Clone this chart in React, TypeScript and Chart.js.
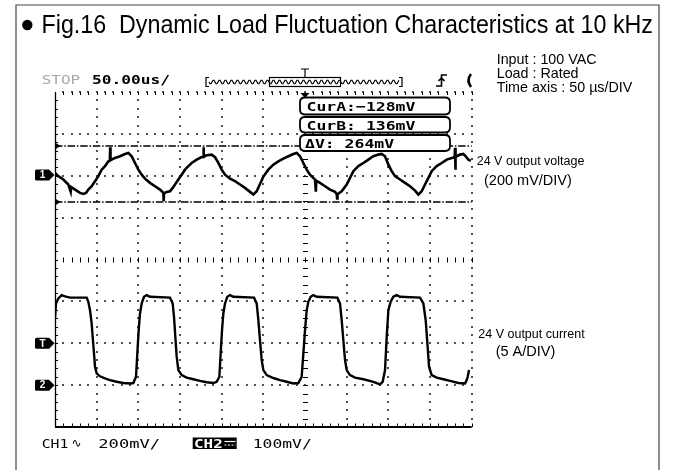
import React, { useEffect, useRef } from "react";
import { Chart, registerables } from "chart.js";

Chart.register(...registerables);

// ---------------- data ----------------
const titleText = "Fig.16  Dynamic Load Fluctuation Characteristics at 10 kHz";
const conditionLines = ["Input : 100 VAC", "Load : Rated", "Time axis : 50 µs/DIV"];
const ch1Notes = ["24 V output voltage", "(200 mV/DIV)"];
const ch2Notes = ["24 V output current", "(5 A/DIV)"];

const timeAxisUs = [0, 500];
const timeDivisionsUs = [0, 50, 100, 150, 200, 250, 300, 350, 400, 450, 500];
const ch1AxisMv = [-1204, 396];
const ch2AxisA = [-5, 35];
const ch2DivisionsA = [-5, 0, 5, 10, 15, 20, 25, 30, 35];

// CH1: 24 V output voltage ripple (mV, AC coupled)
const ch1TimeUs = [
  0, 4, 10, 16, 18.8, 19.3, 26, 30, 34, 37.2,
  40, 44, 48, 52, 56, 60, 64, 65.8, 66.2, 66.6,
  68, 72, 78, 84, 88, 92, 96, 100, 104, 108,
  114, 120, 126, 130, 130.4, 130.8, 134, 138, 141.2, 144,
  148, 152, 156, 160, 164, 170, 176, 177.8, 178.2, 178.6,
  182, 188, 192, 196, 200, 204, 210, 216, 222, 228,
  234, 238, 242, 246, 250, 256, 262, 268, 274, 280,
  286, 290, 294, 298, 302, 306, 312, 313, 313.4, 318,
  324, 330, 336, 338, 338.5, 339, 344, 350, 354, 358,
  364, 370, 376, 382, 388, 392, 396, 400, 404, 408,
  414, 420, 426, 432, 436, 440, 444, 448, 452, 458,
  464, 470, 476, 479.6, 480, 480.4, 480.8, 482, 486, 490,
  492.8, 496, 499,
];
const ch1Mv = [
  10, -6, -22, -46, -80, -58, -75, -86, -91, -86,
  -70, -54, -30, -6, 25, 42, 65, 68, 132, 70,
  73, 81, 89, 100, 105, 89, 57, 25, 1, -18,
  -38, -54, -70, -86, -126, -88, -81, -78, -62, -46,
  -22, 1, 25, 42, 57, 73, 85, 86, 132, 88,
  94, 97, 85, 57, 25, 1, -18, -30, -46, -62,
  -81, -94, -78, -43, -8, 25, 49, 65, 78, 89,
  100, 105, 89, 57, 25, 1, -22, -80, -28, -38,
  -54, -70, -81, -91, -112, -92, -78, -46, -14, 18,
  42, 57, 73, 89, 97, 100, 89, 49, 18, -6,
  -22, -38, -54, -75, -94, -78, -46, -14, 18, 42,
  57, 73, 81, 84, 129, 25, 86, 89, 97, 100,
  89, 73, 67,
];

// CH2: 24 V output current (A)
const ch2TimeUs = [
  0, 1.2, 4, 8, 12, 18, 38, 40, 42, 44,
  45.2, 46.8, 48, 50, 54, 60, 66, 74, 82, 90,
  94, 97.2, 98.8, 100.4, 102, 104, 106.8, 110, 114, 138,
  141.2, 142.8, 144.4, 146, 148, 152, 158, 166, 174, 182,
  190, 194, 197.2, 198.8, 200.4, 202, 204, 206.8, 210, 214,
  238.8, 242, 244, 246, 248, 250, 254, 262, 270, 278,
  286, 292, 296, 298, 300, 302, 304, 306.8, 310, 314,
  338.8, 342, 344, 346, 348, 350, 354, 360, 370, 382,
  390, 393.2, 396, 398, 400, 402.8, 406, 410, 414, 438,
  442, 444.8, 446.8, 448.8, 452, 458, 466, 474, 484, 492,
  494, 495.2, 496.8,
];
const ch2A = [
  8.0, 9.75, 10.35, 10.75, 10.6, 10.45, 10.45, 9.95, 8.95, 7.35,
  5.75, 3.8, 2.2, 1.4, 1.05, 0.8, 0.6, 0.4, 0.25, 0.2,
  0.25, 1.0, 3.8, 6.55, 8.55, 9.75, 10.55, 10.75, 10.55, 10.45,
  9.75, 8.15, 5.75, 3.4, 1.8, 1.2, 0.9, 0.7, 0.5, 0.35,
  0.25, 0.4, 1.0, 3.8, 6.55, 8.55, 9.75, 10.55, 10.75, 10.55,
  10.45, 9.75, 7.75, 5.35, 3.0, 1.8, 1.2, 0.85, 0.6, 0.4,
  0.2, 0.25, 1.0, 3.8, 6.55, 8.95, 9.95, 10.55, 10.75, 10.55,
  10.45, 9.75, 7.75, 5.35, 3.0, 1.8, 1.2, 0.9, 0.7, 0.4,
  0.1, 0.4, 1.8, 5.75, 8.95, 9.95, 10.55, 10.75, 10.55, 10.45,
  9.75, 7.75, 5.0, 2.2, 1.2, 0.9, 0.7, 0.5, 0.25, 0.2,
  0.6, 1.0, 1.8,
];

const cursorNames = ["CurA", "CurB"];
const cursorMv = [-128, 136];
const deltaMv = 264;
const triggerTimeUs = 300;
const triggerLevelA = 5;
const runState = "STOP";
const timebaseLabel = "50.00us/";
const ch1ScaleLabel = "200mV/";
const ch2ScaleLabel = "100mV/";

// ---------------- drawing helpers ----------------
const MONO = '"DejaVu Sans Mono", monospace';
const SANS = '"Liberation Sans", Arial, sans-serif';

function monoText(ctx: any, text: string, x: number, yMid: number, charW: number, color: string, size = 13, weight = "bold") {
  ctx.save();
  ctx.font = `${weight} ${size}px ${MONO}`;
  const adv = ctx.measureText("0").width;
  ctx.translate(x, yMid + (size * 0.729) / 2);
  ctx.scale(charW / adv, 1);
  ctx.fillStyle = color;
  ctx.textAlign = "left";
  ctx.textBaseline = "alphabetic";
  ctx.fillText(text, 0, 0);
  ctx.restore();
}

function sansText(ctx: any, text: string, x: number, baseline: number, size: number, width?: number) {
  ctx.save();
  ctx.font = `${size}px ${SANS}`;
  ctx.translate(x, baseline);
  if (width) {
    const w = ctx.measureText(text).width;
    ctx.scale(width / w, 1);
  }
  ctx.fillStyle = "#000";
  ctx.textAlign = "left";
  ctx.textBaseline = "alphabetic";
  ctx.fillText(text, 0, 0);
  ctx.restore();
}

function pill(ctx: any, x1: number, y1: number, x2: number, y2: number, r: number) {
  ctx.beginPath();
  ctx.moveTo(x1 + r, y1);
  ctx.lineTo(x2 - r, y1);
  ctx.quadraticCurveTo(x2, y1, x2, y1 + r);
  ctx.lineTo(x2, y2 - r);
  ctx.quadraticCurveTo(x2, y2, x2 - r, y2);
  ctx.lineTo(x1 + r, y2);
  ctx.quadraticCurveTo(x1, y2, x1, y2 - r);
  ctx.lineTo(x1, y1 + r);
  ctx.quadraticCurveTo(x1, y1, x1 + r, y1);
  ctx.closePath();
}

function channelMarker(ctx: any, label: string, y: number) {
  ctx.save();
  ctx.fillStyle = "#000";
  pill(ctx, 35, y - 5.5, 50, y + 5.5, 1.5);
  ctx.fill();
  ctx.beginPath();
  ctx.moveTo(49.5, y - 5);
  ctx.lineTo(54.5, y);
  ctx.lineTo(49.5, y + 5);
  ctx.closePath();
  ctx.fill();
  ctx.font = `bold 10px ${SANS}`;
  ctx.fillStyle = "#fff";
  ctx.textAlign = "center";
  ctx.textBaseline = "middle";
  ctx.fillText(label, 42.5, y + 0.5);
  ctx.restore();
}

const scopePlugin = {
  id: "scope",
  beforeDatasetsDraw(chart: any) {
    const { ctx, chartArea: a, scales } = chart;
    const xs = scales.x;
    const y1 = scales.y1;
    const y2 = scales.y2;
    const minorT = (timeDivisionsUs[1] - timeDivisionsUs[0]) / 5;
    const minorA = (ch2DivisionsA[1] - ch2DivisionsA[0]) / 5;
    const tStart = timeAxisUs[0];
    const tEnd = timeAxisUs[1];
    const aStart = ch2AxisA[0];
    const aEnd = ch2AxisA[1];
    const centerA = (aStart + aEnd) / 2;
    ctx.save();

    // dotted graticule
    ctx.fillStyle = "#505050";
    const dot = (x: number, y: number) => ctx.fillRect(Math.round(x) - 1, Math.round(y) - 1, 2, 2);
    for (const t of timeDivisionsUs) {
      if (t === tStart || t === triggerTimeUs) continue;
      const x = xs.getPixelForValue(t);
      for (let v = aStart + minorA; v <= aEnd + 1e-9; v += minorA) dot(x, y2.getPixelForValue(v));
    }
    for (const v of ch2DivisionsA) {
      if (v === aStart || v === centerA) continue;
      const y = y2.getPixelForValue(v);
      for (let t = tStart + minorT; t <= tEnd + 1e-9; t += minorT) dot(xs.getPixelForValue(t), y);
    }

    ctx.strokeStyle = "#000";
    ctx.lineWidth = 1;
    // centre vertical axis (trigger position) with short ticks
    const cx = Math.round(xs.getPixelForValue(triggerTimeUs)) + 0.5;
    ctx.beginPath();
    for (let v = aStart + minorA; v < aEnd; v += minorA) {
      const y = Math.round(y2.getPixelForValue(v)) + 0.5;
      ctx.moveTo(cx - 2.5, y);
      ctx.lineTo(cx + 2.5, y);
    }
    // centre horizontal axis with short ticks
    const cy = Math.round(y2.getPixelForValue(centerA));
    for (let t = tStart + minorT; t <= tEnd + 1e-9; t += minorT) {
      const x = Math.round(xs.getPixelForValue(t)) + 0.5;
      ctx.moveTo(x, cy - 2.5);
      ctx.lineTo(x, cy + 2.5);
    }
    // left edge ticks
    for (let v = aStart + minorA; v < aEnd; v += minorA) {
      const y = Math.round(y2.getPixelForValue(v)) + 0.5;
      ctx.moveTo(a.left, y);
      ctx.lineTo(a.left + 3, y);
    }
    // top & bottom edge ticks
    for (let t = tStart + minorT; t <= tEnd + 1e-9; t += minorT) {
      const x = Math.round(xs.getPixelForValue(t)) + 0.5;
      ctx.moveTo(x, a.top);
      ctx.lineTo(x, a.top + 3);
      ctx.moveTo(x, a.bottom);
      ctx.lineTo(x, a.bottom - 3.5);
    }
    ctx.stroke();

    // left and bottom border
    ctx.lineWidth = 1.3;
    ctx.beginPath();
    ctx.moveTo(a.left + 0.5, a.top);
    ctx.lineTo(a.left + 0.5, a.bottom);
    ctx.stroke();
    ctx.lineWidth = 2;
    ctx.beginPath();
    ctx.moveTo(a.left, a.bottom);
    ctx.lineTo(a.right, a.bottom);
    ctx.stroke();

    // cursor lines (dash-dot) with left triangles
    for (const v of cursorMv) {
      const y = Math.round(y1.getPixelForValue(v));
      ctx.save();
      ctx.lineWidth = 1.7;
      ctx.setLineDash([7.5, 1.8, 1.5, 1.8]);
      ctx.beginPath();
      ctx.moveTo(a.left, y);
      ctx.lineTo(a.right, y);
      ctx.stroke();
      ctx.restore();
      ctx.beginPath();
      ctx.moveTo(a.left, y - 3.5);
      ctx.lineTo(a.left + 5.5, y);
      ctx.lineTo(a.left, y + 3.5);
      ctx.closePath();
      ctx.fillStyle = "#000";
      ctx.fill();
    }

    // trigger position marker
    const tx = xs.getPixelForValue(triggerTimeUs);
    ctx.beginPath();
    ctx.moveTo(tx - 4.5, a.top + 1);
    ctx.lineTo(tx + 4.5, a.top + 1);
    ctx.lineTo(tx, a.top + 6);
    ctx.closePath();
    ctx.fillStyle = "#000";
    ctx.fill();
    ctx.restore();
  },

  afterDatasetsDraw(chart: any) {
    const { ctx } = chart;
    ctx.save();
    const fmt = (v: number) => (v < 0 ? "\u2212" : " ") + Math.abs(v);
    const rows = [
      { y1: 97.5, y2: 114.5, text: `${cursorNames[0]}:${fmt(cursorMv[0])}mV`, x: 306.5 },
      { y1: 117, y2: 132.5, text: `${cursorNames[1]}:${fmt(cursorMv[1])}mV`, x: 306.5 },
      { y1: 135, y2: 151, text: `\u0394V: ${deltaMv}mV`, x: 305 },
    ];
    for (const r of rows) {
      pill(ctx, 300, r.y1, 450, r.y2, 5);
      ctx.fillStyle = "#fff";
      ctx.fill();
      ctx.lineWidth = 1.8;
      ctx.strokeStyle = "#000";
      ctx.stroke();
      monoText(ctx, r.text, r.x, (r.y1 + r.y2) / 2 + 0.5, 9.9, "#000");
    }
    ctx.restore();
  },

  afterDraw(chart: any) {
    const { ctx, scales } = chart;
    ctx.save();
    // outer figure frame
    ctx.strokeStyle = "#444";
    ctx.lineWidth = 1.2;
    ctx.beginPath();
    ctx.moveTo(16, 470);
    ctx.lineTo(16, 5);
    ctx.lineTo(659, 5);
    ctx.lineTo(659, 470);
    ctx.stroke();

    // title
    ctx.fillStyle = "#000";
    ctx.beginPath();
    ctx.arc(27.3, 25, 5.2, 0, Math.PI * 2);
    ctx.fill();
    sansText(ctx, titleText, 41.5, 33.3, 25.6, 611.5);

    // test conditions
    sansText(ctx, conditionLines[0], 496.7, 64, 14.3);
    sansText(ctx, conditionLines[1], 496.7, 78, 14.3);
    sansText(ctx, conditionLines[2], 496.7, 92, 14.3);

    // channel notes
    sansText(ctx, ch1Notes[0], 476.7, 165, 12.5);
    sansText(ctx, ch1Notes[1], 484, 185, 14.5);
    sansText(ctx, ch2Notes[0], 478.3, 338, 12.5);
    sansText(ctx, ch2Notes[1], 495.7, 356, 14.5);

    // scope header
    monoText(ctx, runState, 41.7, 79, 9.6, "#a8a8a8", 13, "normal");
    monoText(ctx, timebaseLabel, 92, 79, 9.75, "#000");
    // memory bar
    ctx.strokeStyle = "#000";
    ctx.lineWidth = 1.2;
    ctx.beginPath();
    ctx.moveTo(209, 77.5);
    ctx.lineTo(206, 77.5);
    ctx.lineTo(206, 86.5);
    ctx.lineTo(209, 86.5);
    ctx.moveTo(399, 77.5);
    ctx.lineTo(402, 77.5);
    ctx.lineTo(402, 86.5);
    ctx.lineTo(399, 86.5);
    ctx.stroke();
    ctx.beginPath();
    for (let x = 209; x <= 399; x += 1) {
      const y = 82 + 2 * Math.sin(((x - 209) / 6) * Math.PI * 2);
      if (x === 209) ctx.moveTo(x, y);
      else ctx.lineTo(x, y);
    }
    ctx.stroke();
    ctx.strokeRect(269.5, 77.5, 71, 9);
    const tx = scales.x.getPixelForValue(triggerTimeUs);
    ctx.beginPath();
    ctx.moveTo(tx - 4, 69);
    ctx.lineTo(tx + 4, 69);
    ctx.moveTo(tx, 69);
    ctx.lineTo(tx, 77);
    ctx.stroke();
    // trigger slope symbol
    ctx.lineWidth = 1.6;
    ctx.beginPath();
    ctx.moveTo(436, 86);
    ctx.lineTo(441.5, 86);
    ctx.lineTo(441.5, 75);
    ctx.lineTo(447, 75);
    ctx.moveTo(438.5, 81);
    ctx.lineTo(441.5, 78);
    ctx.lineTo(444.5, 81);
    ctx.stroke();
    ctx.lineWidth = 2.6;
    ctx.beginPath();
    ctx.moveTo(471, 74);
    ctx.quadraticCurveTo(466, 80.5, 471, 87);
    ctx.stroke();

    // scope footer
    monoText(ctx, "CH1", 41.7, 443.3, 8.9, "#000", 13, "normal");
    ctx.font = `12px "DejaVu Sans", sans-serif`;
    ctx.fillStyle = "#000";
    ctx.textBaseline = "middle";
    ctx.fillText("\u223F", 71.5, 444);
    monoText(ctx, ch1ScaleLabel, 98.3, 443.3, 10.3, "#000", 13, "normal");
    ctx.fillStyle = "#000";
    ctx.fillRect(192.7, 437.5, 44, 11.5);
    monoText(ctx, "CH2", 194, 443.3, 9.6, "#fff");
    ctx.strokeStyle = "#fff";
    ctx.lineWidth = 1.2;
    ctx.beginPath();
    ctx.moveTo(224.5, 441.5);
    ctx.lineTo(235.5, 441.5);
    ctx.stroke();
    ctx.setLineDash([2, 1.5]);
    ctx.beginPath();
    ctx.moveTo(224.5, 445);
    ctx.lineTo(235.5, 445);
    ctx.stroke();
    ctx.setLineDash([]);
    monoText(ctx, ch2ScaleLabel, 252.7, 443.3, 9.85, "#000", 13, "normal");

    // channel / trigger markers
    channelMarker(ctx, "1", scales.y1.getPixelForValue(0));
    channelMarker(ctx, "T", scales.y2.getPixelForValue(triggerLevelA));
    channelMarker(ctx, "2", scales.y2.getPixelForValue(0));
    ctx.restore();
  },
};

function zip(xs: number[], ys: number[]) {
  const n = Math.min(xs.length, ys.length);
  const out: { x: number; y: number }[] = [];
  for (let i = 0; i < n; i++) out.push({ x: xs[i], y: ys[i] });
  return out;
}

export default function App() {
  const ref = useRef<HTMLCanvasElement | null>(null);
  useEffect(() => {
    document.body.style.margin = "0";
    const chart = new Chart(ref.current as HTMLCanvasElement, {
      type: "line",
      data: {
        datasets: [
          {
            label: "24 V output voltage",
            data: zip(ch1TimeUs, ch1Mv),
            yAxisID: "y1",
            borderColor: "#000",
            borderWidth: 2.6,
            pointRadius: 0,
            tension: 0,
            fill: false,
          },
          {
            label: "24 V output current",
            data: zip(ch2TimeUs, ch2A),
            yAxisID: "y2",
            borderColor: "#000",
            borderWidth: 2.4,
            pointRadius: 0,
            tension: 0,
            fill: false,
          },
        ],
      },
      options: {
        animation: false,
        responsive: false,
        devicePixelRatio: 1,
        events: [],
        layout: { padding: { left: 55, top: 92, right: 202.3, bottom: 43 } },
        scales: {
          x: { type: "linear", min: timeAxisUs[0], max: timeAxisUs[1], display: false },
          y1: { type: "linear", min: ch1AxisMv[0], max: ch1AxisMv[1], display: false },
          y2: { type: "linear", min: ch2AxisA[0], max: ch2AxisA[1], display: false },
        },
        plugins: { legend: { display: false }, tooltip: { enabled: false } },
      },
      plugins: [scopePlugin],
    } as any);
    return () => chart.destroy();
  }, []);
  return (
    <div style={{ width: 674, height: 470, background: "#fff" }}>
      <canvas ref={ref} width={674} height={470} style={{ display: "block" }} />
    </div>
  );
}
